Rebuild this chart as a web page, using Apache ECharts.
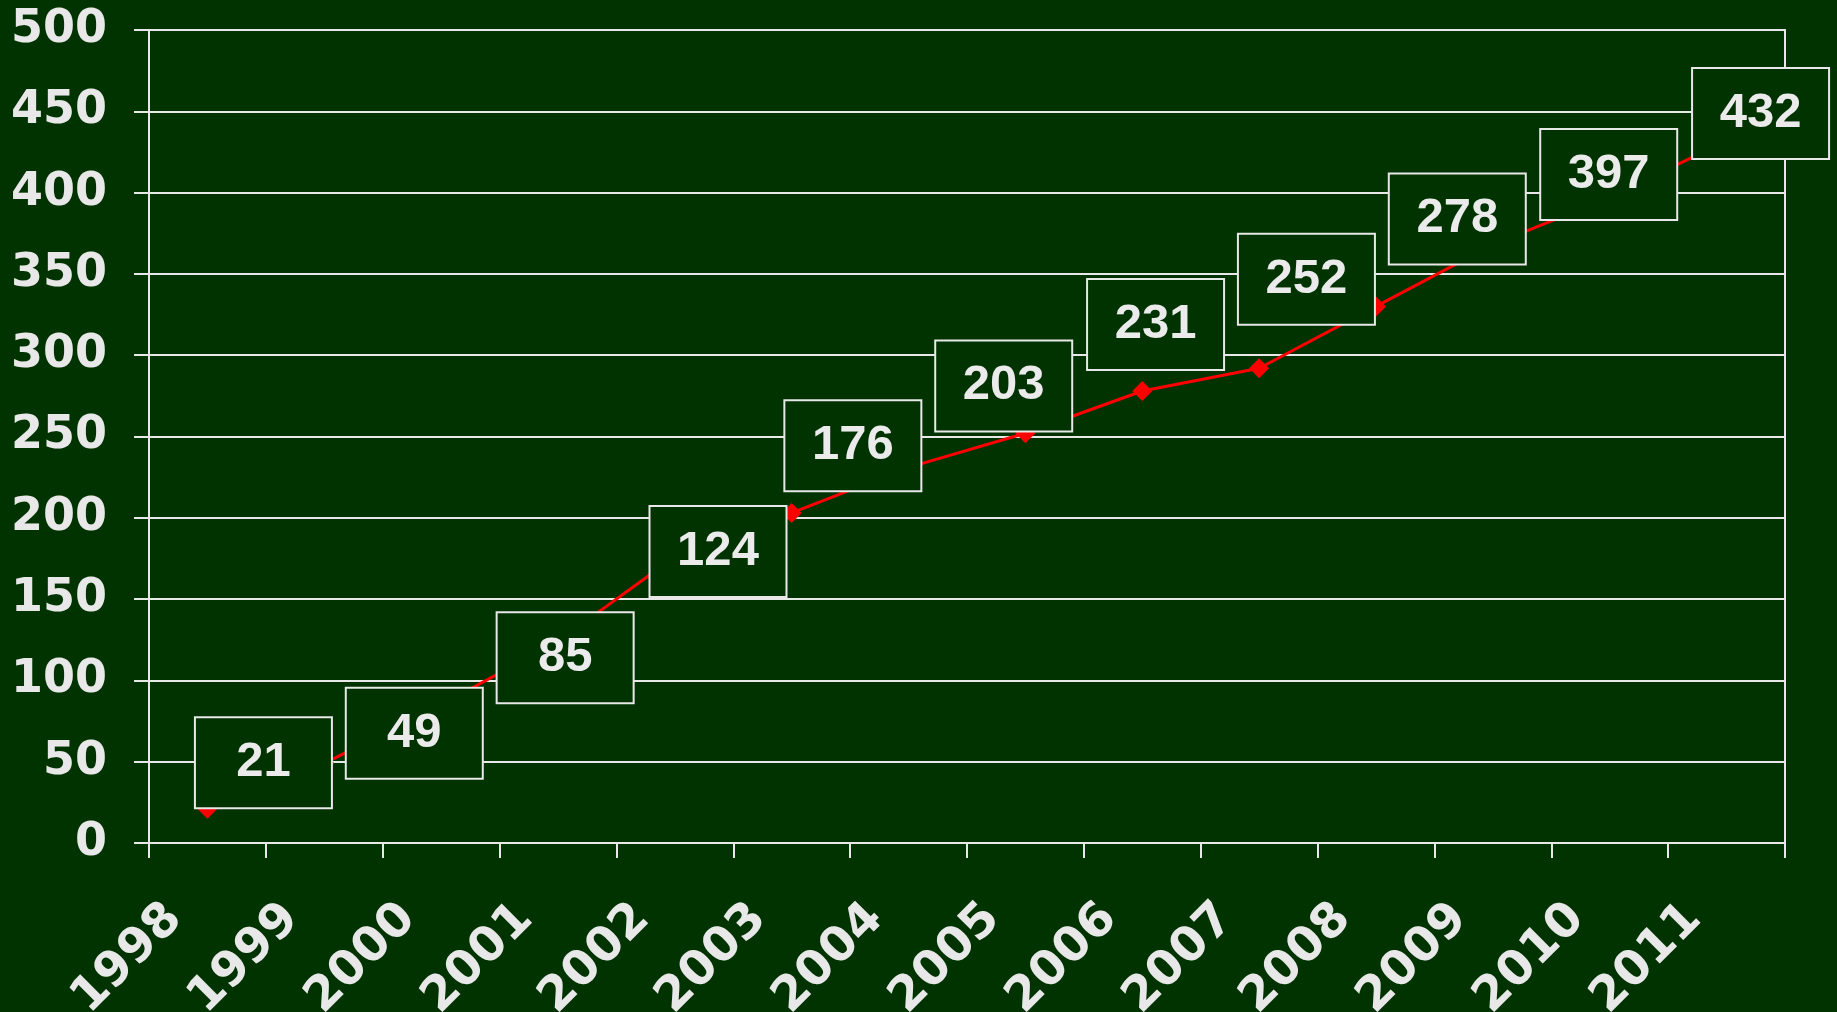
<!DOCTYPE html>
<html><head><meta charset="utf-8">
<script src="https://cdn.jsdelivr.net/npm/echarts@6/dist/echarts.min.js"></script>
<style>html,body{margin:0;padding:0;background:#003300;}#c{width:1837px;height:1012px;}</style>
</head><body><div id="c"></div>
<script>
const years = ['1998','1999','2000','2001','2002','2003','2004','2005','2006','2007','2008','2009','2010','2011'];
const values = [21, 49, 85, 124, 176, 203, 231, 252, 278, 292, 330, 368, 397, 432];
const labelled = [true, true, true, true, true, true, true, true, true, false, false, false, true, true];

// layout: offsets of the annotation boxes from their points (px)
const labelOffsets = [[56,-46],[90,-30],[124,-47],[160,-90],[178,-111],[212,-127],[247,-143],[281,-154],[315,-172],[0,0],[0,0],[0,0],[-1,-23],[34,-27]];

const fg = '#E8E8E8';
const chart = echarts.init(document.getElementById('c'));
chart.setOption({
  backgroundColor: '#003300',
  animation: false,
  grid: { left: 149, right: 52, top: 30, bottom: 169, outerBoundsMode: 'none', containLabel: false, show: true, borderColor: fg, borderWidth: 2, backgroundColor: 'transparent' },
  xAxis: {
    type: 'category', data: years, boundaryGap: true,
    axisLine: { show: true, lineStyle: { color: fg, width: 2 } },
    axisTick: { show: true, length: 15, lineStyle: { color: fg, width: 2 } },
    axisLabel: { interval: 0, rotate: 45, margin: 36, padding: [0, 46, 0, 0], color: fg, fontFamily: 'DejaVu Sans', fontWeight: 'bold', fontSize: 48 },
    splitLine: { show: false }
  },
  yAxis: {
    type: 'value', min: 0, max: 500, interval: 50,
    axisLine: { show: true, lineStyle: { color: fg, width: 2 } },
    axisTick: { show: true, length: 15, lineStyle: { color: fg, width: 2 } },
    axisLabel: { margin: 42, color: fg, fontFamily: 'DejaVu Sans', fontWeight: 'bold', fontSize: 46 },
    splitLine: { show: true, lineStyle: { color: fg, width: 2 } }
  },
  series: [{
    type: 'line',
    data: values.map((v, i) => ({
      value: v,
      label: { show: labelled[i], offset: labelOffsets[i] }
    })),
    symbol: 'diamond', symbolSize: 20, showAllSymbol: true,
    lineStyle: { color: '#FF0000', width: 3 },
    itemStyle: { color: '#FF0000' },
    label: {
      position: 'inside', align: 'center', verticalAlign: 'middle',
      width: 135, height: 89, lineHeight: 89, padding: 0,
      backgroundColor: '#003300', borderColor: fg, borderWidth: 2,
      color: '#EBEBEB', fontFamily: 'Liberation Sans', fontWeight: 'bold', fontSize: 49,
      formatter: p => String(p.value)
    },
    z: 3
  }]
});
</script></body></html>
